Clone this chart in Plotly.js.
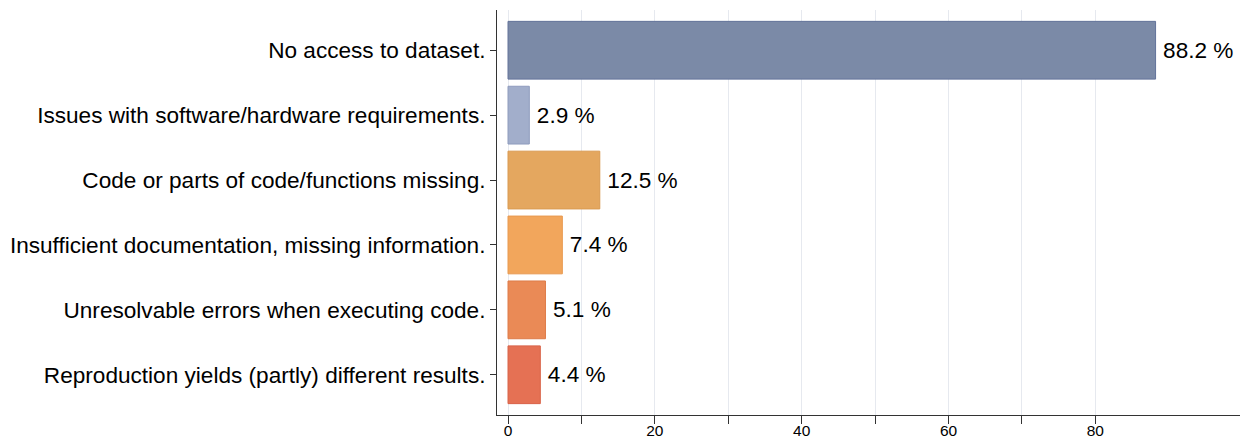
<!DOCTYPE html>
<html><head><meta charset="utf-8">
<script src="https://cdn.plot.ly/plotly-3.0.1.min.js"></script>
<style>html,body{margin:0;padding:0;background:#fff}#c{width:1245px;height:439px}</style>
</head><body><div id="c"></div>
<script>
const categories = [
  "No access to dataset.",
  "Issues with software/hardware requirements.",
  "Code or parts of code/functions missing.",
  "Insufficient documentation, missing information.",
  "Unresolvable errors when executing code.",
  "Reproduction yields (partly) different results."
];
const values = [88.2, 2.9, 12.5, 7.4, 5.1, 4.4];
const barColors = ["#7b8aa7", "#a2aecb", "#e4a75f", "#f2a65c", "#ea8a56", "#e57154"];
const lineColors = ["#63739a", "#8e9bbd", "#d99a50", "#e8994f", "#de7b48", "#d86248"];
const xTickVals = [0,10,20,30,40,50,60,70,80];
const xTickText = ["0","","20","","40","","60","","80"];

const trace = {
  type: "bar",
  orientation: "h",
  y: categories,
  x: values,
  width: 0.89,
  marker: {color: barColors, line: {color: lineColors, width: 1}},
  text: values.map(v => "\u2009" + v.toFixed(1) + " %"),
  textposition: "outside",
  cliponaxis: false,
  textfont: {family: "Liberation Sans, Arial, sans-serif", size: 22.6, color: "#000"},
  hoverinfo: "none"
};

const layout = {
  width: 1245, height: 439,
  margin: {l: 497, r: 5, t: 10, b: 24},
  paper_bgcolor: "#fff", plot_bgcolor: "#fff",
  showlegend: false,
  bargap: 0.11,
  xaxis: {
    range: [-1.5, 99.7],
    tickvals: xTickVals, ticktext: xTickText,
    ticks: "outside", ticklen: 8, tickcolor: "#333", tickwidth: 1,
    ticklabelstandoff: -7,
    showgrid: true, gridcolor: "#e6e9ef", gridwidth: 1,
    zeroline: false,
    showline: true, linecolor: "#333", linewidth: 1,
    tickfont: {family: "Liberation Sans, Arial, sans-serif", size: 15.5, color: "#000"},
    fixedrange: true
  },
  yaxis: {
    autorange: false,
    range: [5.62, -0.62],
    type: "category",
    ticks: "outside", ticklen: 6, tickcolor: "#333",
    showline: true, linecolor: "#333", linewidth: 1,
    showgrid: false, zeroline: false,
    tickfont: {family: "Liberation Sans, Arial, sans-serif", size: 22.6, color: "#000"},
    automargin: false,
    fixedrange: true
  },
  font: {family: "Liberation Sans, Arial, sans-serif"}
};

Plotly.newPlot("c", [trace], layout, {displayModeBar: false, staticPlot: true});
</script>
</body></html>
